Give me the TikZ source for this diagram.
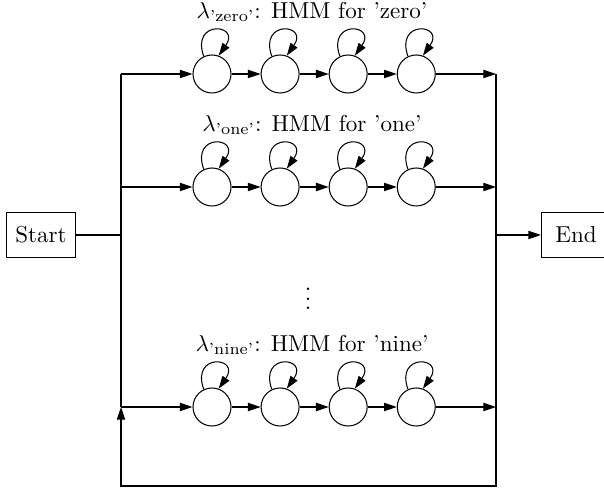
\documentclass[tikz,border=0pt]{standalone}
\usepackage{amsmath}
\usepackage{tikz}
\usetikzlibrary{positioning, arrows.meta, calc}
\tikzset{
  hmmstate/.style={
    circle, draw, line width=0.45pt,
    minimum size=16.5pt, inner sep=0pt
  },
  termbox/.style={
    rectangle, draw, line width=0.45pt,
    minimum width=30pt, minimum height=19.5pt,
    inner sep=3pt
  },
  arrow/.style={
    -{Triangle[length=5.5pt, width=3.6pt]},
    line width=0.45pt
  },
  hmmlabel/.style={font=\normalsize}
}
% self transition drawn over the top of a state
\newcommand{\selfloop}[1]{%
  \draw[arrow] (#1.115) .. controls +(110:17pt) and +(55:17pt) .. (#1.70);}

\begin{document}
\begin{tikzpicture}[x=0.434pt, y=-0.434pt]
        \useasboundingbox (0,0) rectangle (604,488);
        \node[termbox] (start) at (41,235) {Start};
        \node[termbox, anchor=west] (end) at (541,235) {End};
        % one row of four states per word model
        \foreach \r/\y/\w in {z/74/zero, o/187/one, n/407/nine} {
          \node[hmmstate] (\r1) at (212,\y) {};
          \node[hmmstate, right=12.6pt of \r1] (\r2) {};
          \node[hmmstate, right=12.6pt of \r2] (\r3) {};
          \node[hmmstate, right=12.6pt of \r3] (\r4) {};
          \coordinate (\r L) at (121,\y);
          \coordinate (\r R) at (496,\y);
          \node[hmmlabel] (\r lab) at (312,\y-62) {$\lambda_{\text{'\w'}}$: HMM for '\w'};
          \draw[arrow] (\r L) -- (\r1);
          \draw[arrow] (\r1) -- (\r2);
          \draw[arrow] (\r2) -- (\r3);
          \draw[arrow] (\r3) -- (\r4);
          \draw[arrow] (\r4) -- (\r R);
          \selfloop{\r1}
          \selfloop{\r2}
          \selfloop{\r3}
          \selfloop{\r4}
        }
        \node (dots) at (308,292) {$\vdots$};
        \coordinate (lb) at (121,486);
        \coordinate (rb) at (496,486);
        \draw[line width=0.45pt] (start) -- (start -| zL);
        \draw[line width=0.45pt] (zL) -- (nL);
        \draw[arrow] (zR) -- (rb) -- (lb) -- (nL);
        \draw[arrow] (zR |- end) -- (end);
      \end{tikzpicture}
\end{document}
